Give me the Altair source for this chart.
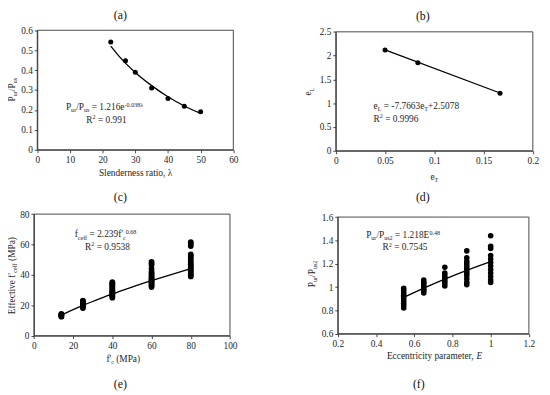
import altair as alt
import pandas as pd

# ---------------- data ----------------
# (a) strength ratio vs slenderness ratio
a_lambda = [22.5, 27, 30, 35, 40, 45, 50]
a_ratio = [0.541, 0.447, 0.389, 0.310, 0.257, 0.219, 0.191]
a_fit_lambda = [22.5, 25, 30, 35, 40, 45, 50]
a_fit_ratio = [0.520, 0.470, 0.388, 0.322, 0.266, 0.220, 0.183]
a_xticks = [0, 10, 20, 30, 40, 50, 60]
a_yticks = [0, 0.1, 0.2, 0.3, 0.4, 0.5, 0.6]

# (b) eL vs eT
b_eT = [0.05, 0.0833, 0.1667]
b_eL = [2.12, 1.85, 1.21]
b_fit_eT = [0.05, 0.1667]
b_fit_eL = [2.12, 1.214]
b_xticks = [0, 0.05, 0.1, 0.15, 0.2]
b_yticks = [0, 0.5, 1, 1.5, 2, 2.5]

# (c) effective strength vs f'c
c_fc_levels = [14, 25, 40, 60, 80]
c_values = [
    [12.5, 13.0, 13.3, 13.6, 14.0, 14.3],
    [18.2, 18.8, 19.4, 20.0, 20.5, 21.0, 21.5, 22.0, 22.5, 23.0],
    [25.0, 25.8, 26.5, 27.2, 28.0, 28.6, 29.3, 30.0, 30.8, 31.5, 32.3, 33.0, 33.8, 34.5, 35.2],
    [32.0, 32.8, 33.5, 34.2, 35.0, 35.8, 36.5, 37.2, 38.0, 39.0, 40.0, 41.0, 42.0, 44.0, 46.5, 47.5, 48.5],
    [39.0, 40.0, 41.0, 42.0, 43.0, 44.0, 45.0, 46.0, 47.0, 48.0, 49.5, 51.0, 52.5, 53.5, 59.0, 60.5, 61.5],
]
c_fit_fc = [14, 20, 25, 30, 40, 50, 60, 70, 80]
c_fit_eff = [13.5, 17.2, 20.0, 22.5, 27.5, 32.0, 36.2, 40.2, 44.1]
c_xticks = [0, 20, 40, 60, 80, 100]
c_yticks = [0, 20, 40, 60, 80]

# (d) strength ratio vs eccentricity parameter
d_E_levels = [0.545, 0.65, 0.76, 0.875, 1.0]
d_values = [
    [0.82, 0.84, 0.86, 0.88, 0.90, 0.92, 0.93, 0.95, 0.97, 0.99],
    [0.95, 0.97, 0.98, 1.00, 1.01, 1.03, 1.04, 1.06],
    [1.01, 1.03, 1.05, 1.07, 1.08, 1.10, 1.12, 1.17],
    [1.02, 1.04, 1.07, 1.10, 1.12, 1.14, 1.16, 1.18, 1.20, 1.22, 1.25, 1.31],
    [1.04, 1.06, 1.09, 1.12, 1.15, 1.18, 1.21, 1.24, 1.27, 1.33, 1.35, 1.44],
]
d_fit_E = [0.545, 0.65, 0.76, 0.875, 1.0]
d_fit_ratio = [0.911, 0.991, 1.068, 1.143, 1.218]
d_xticks = [0.2, 0.4, 0.6, 0.8, 1, 1.2]
d_yticks = [0.6, 0.8, 1, 1.2, 1.4, 1.6]

# ---------------- layout / style ----------------
CW, CH = 542, 387
FONT = "Liberation Serif"
TXT = "#262626"
LINE = "#333333"
LABEL_FS = 9.5
TITLE_FS = 9.5
EQ_FS = 9.5

WID = {' ': 250, '(': 333, ')': 333, '+': 564, ',': 250, '-': 333, '.': 250, '/': 278,
       '=': 564, "'": 180, 'E': 611, 'L': 611, 'M': 889, 'P': 556, 'R': 667, 'S': 556,
       'T': 611, 'a': 444, 'c': 444, 'd': 500, 'e': 444, 'f': 333, 'i': 278, 'l': 278,
       'm': 778, 'n': 500, 'o': 500, 'p': 500, 'r': 333, 's': 389, 't': 278, 'u': 500,
       'v': 500, 'y': 500, 'λ': 480}

DUMMY = pd.DataFrame({"k": [0]})


def tw(s, size):
    return sum(WID.get(ch, 500) for ch in s) / 1000 * size


def rich(pieces, x, y, size, align="left", angle=0, color=TXT):
    def fs(st):
        return size * (0.65 if st in "bp" else 1.0)
    widths = [tw(t, fs(st)) for t, st in pieces]
    total = sum(widths)
    pos = -total / 2 if align == "center" else 0
    out = []
    for (t, st), w in zip(pieces, widths):
        lead = len(t) - len(t.lstrip(" "))
        body = t.strip(" ")
        p = pos + tw(" " * lead, fs(st))
        shift = size * 0.22 if st == "b" else (-size * 0.36 if st == "p" else 0)
        if angle == 0:
            px, py = x + p, y + shift
        else:
            px, py = x + shift, y - p
        if body:
            out.append(
                alt.Chart(DUMMY).mark_text(
                    align="left", baseline="alphabetic", font=FONT, fontSize=fs(st),
                    fontStyle="italic" if st == "i" else "normal", angle=angle, color=color
                ).encode(x=alt.value(px), y=alt.value(py), text=alt.value(body))
            )
        pos += w
    return out


def panel(pts, fit, xdom, ydom, box, xticks, yticks, size=26):
    left, right, top, bottom = box
    xs = alt.Scale(domain=xdom, range=[left, right], nice=False, zero=False)
    ys = alt.Scale(domain=ydom, range=[bottom, top], nice=False, zero=False)
    common = dict(grid=False, title=None, format="~r", labelFont=FONT,
                  labelFontSize=LABEL_FS, labelColor=TXT, domainColor=LINE,
                  tickColor=LINE, tickSize=3, domainWidth=0.9, tickWidth=0.9,
                  labelFlush=False, labelOverlap=False, labelPadding=2)
    xa = alt.Axis(values=xticks, orient="bottom", offset=bottom - CH, **common)
    ya = alt.Axis(values=yticks, orient="left", offset=-left, **common)
    X = alt.X("x:Q", scale=xs, axis=xa)
    Y = alt.Y("y:Q", scale=ys, axis=ya)
    frame_df = pd.DataFrame({"x": [xdom[0]], "x2": [xdom[1]], "y": [ydom[0]], "y2": [ydom[1]]})
    frame = alt.Chart(frame_df).mark_rect(fillOpacity=0, stroke=LINE, strokeWidth=0.9).encode(
        x=X, x2="x2:Q", y=Y, y2="y2:Q")
    line = alt.Chart(fit).mark_line(color="black", strokeWidth=1.3, interpolate="monotone").encode(x=X, y=Y)
    dots = alt.Chart(pts).mark_circle(size=size, color="black", opacity=1).encode(x=X, y=Y)
    return alt.layer(frame, line, dots)


def clusters(levels, groups):
    xs, ys = [], []
    for lv, g in zip(levels, groups):
        xs += [lv] * len(g)
        ys += g
    return pd.DataFrame({"x": xs, "y": ys})


pA = panel(pd.DataFrame({"x": a_lambda, "y": a_ratio}),
           pd.DataFrame({"x": a_fit_lambda, "y": a_fit_ratio}),
           [0, 60], [0, 0.6], (29.7, 228.7, 19.7, 141), a_xticks, a_yticks, size=26)
pB = panel(pd.DataFrame({"x": b_eT, "y": b_eL}),
           pd.DataFrame({"x": b_fit_eT, "y": b_fit_eL}),
           [0, 0.2], [0, 2.5], (332.7, 532.7, 21.3, 142), b_xticks, b_yticks, size=26)
pC = panel(clusters(c_fc_levels, c_values),
           pd.DataFrame({"x": c_fit_fc, "y": c_fit_eff}),
           [0, 100], [0, 80], (26.3, 225.3, 206.3, 329.7), c_xticks, c_yticks, size=34)
pD = panel(clusters(d_E_levels, d_values),
           pd.DataFrame({"x": d_fit_E, "y": d_fit_ratio}),
           [0.2, 1.2], [0.6, 1.6], (334.7, 528.7, 209.3, 327.7), d_xticks, d_yticks, size=32)

texts = []
# panel letters
for lab, x, y in [("(a)", 114, 8.5), ("(b)", 421, 9), ("(c)", 114, 193),
                  ("(d)", 421, 193), ("(e)", 114, 383), ("(f)", 417, 383)]:
    texts += rich([(lab, "n")], x, y, 12, align="center", color="#111111")

# equations
texts += rich([("P", "n"), ("ur", "b"), ("/P", "n"), ("us", "b"), (" = 1.216e", "n"), ("-0.038λ", "p")],
              98, 101, EQ_FS, align="center")
texts += rich([("R", "n"), ("2", "p"), (" = 0.991", "n")], 100, 113.5, EQ_FS, align="center")
texts += rich([("e", "n"), ("L", "b"), (" = -7.7663e", "n"), ("T", "b"), ("+2.5078", "n")],
              371, 100, EQ_FS)
texts += rich([("R", "n"), ("2", "p"), (" = 0.9996", "n")], 371, 112.5, EQ_FS)
texts += rich([("f", "n"), ("ceff", "b"), (" = 2.239f'", "n"), ("c", "b"), ("0.68", "p")],
              99, 230, EQ_FS, align="center")
texts += rich([("R", "n"), ("2", "p"), (" = 0.9538", "n")], 101, 242.5, EQ_FS, align="center")
texts += rich([("P", "n"), ("ur", "b"), ("/P", "n"), ("us2", "b"), (" = 1.218E", "n"), ("0.48", "p")],
              401, 230.5, EQ_FS, align="center")
texts += rich([("R", "n"), ("2", "p"), (" = 0.7545", "n")], 403, 243, EQ_FS, align="center")

# axis titles
texts += rich([("Slenderness ratio, λ", "n")], 129.5, 168, TITLE_FS, align="center")
texts += rich([("P", "n"), ("ur", "b"), ("/P", "n"), ("us", "b")], 7, 80, TITLE_FS, align="center", angle=270)
texts += rich([("e", "n"), ("T", "b")], 432.7, 171.7, TITLE_FS, align="center")
texts += rich([("e", "n"), ("L", "b")], 308, 82, TITLE_FS, align="center", angle=270)
texts += rich([("f'", "n"), ("c", "b"), (" (MPa)", "n")], 117, 356.7, TITLE_FS, align="center")
texts += rich([("Effective f'", "n"), ("ceff", "b"), (" (MPa)", "n")], 7, 268.7, TITLE_FS,
              align="center", angle=270)
texts += rich([("Eccentricity parameter, ", "n"), ("E", "i")], 433, 353.3, TITLE_FS, align="center")
texts += rich([("P", "n"), ("ur", "b"), ("/P", "n"), ("us2", "b")], 311.7, 267, TITLE_FS,
              align="center", angle=270)

chart = alt.layer(pA, pB, pC, pD, *texts).resolve_scale(
    x="independent", y="independent"
).properties(
    width=CW, height=CH, autosize=alt.AutoSizeParams(type="none"), padding=0,
    background="white"
).configure_view(strokeWidth=0)

chart.save("out.html", embed_options={"renderer": "svg", "actions": False})
